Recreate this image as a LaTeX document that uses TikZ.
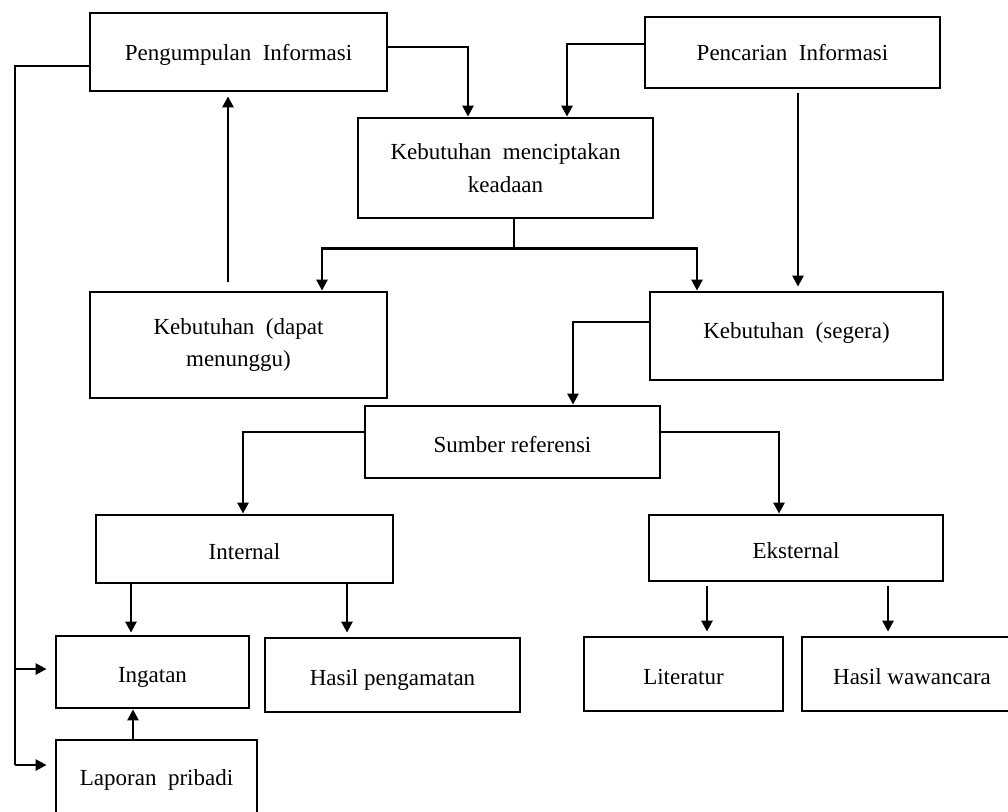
\documentclass[tikz,border=0pt]{standalone}
\usepackage{fontspec}
\setmainfont{Liberation Serif}
\usepackage{tikz}
\usetikzlibrary{arrows.meta}
\usetikzlibrary{positioning}

\begin{document}
\begin{tikzpicture}[x=1pt,y=-1pt,
  kotak/.style={draw, line width=2.8pt, rectangle, inner sep=0pt, align=center,
    font=\fontsize{23}{32.5}\selectfont},
  satu/.style={text height=20pt, text depth=0pt},
  garis/.style={line width=2.5pt},
  panah/.style={line width=2.5pt, -{Triangle[length=11pt,width=11pt]}}]

\useasboundingbox (0,0) rectangle (1008,811);

\node[kotak, satu, minimum width=297pt, minimum height=78pt, text depth=4pt] (kumpul) at (238.5,52) {Pengumpulan\ \ Informasi};
\node[kotak, satu, minimum width=295pt, minimum height=71pt, text depth=4pt] (cari) at (792.5,52.5) {Pencarian\ \ Informasi};
\node[kotak, minimum width=295pt, minimum height=100pt] (cipta) at (505.5,168) {Kebutuhan\ \ menciptakan\\keadaan};
\node[kotak, minimum width=297pt, minimum height=106pt] (tunggu) at (238.5,345) {Kebutuhan\ \ (dapat\\menunggu)};
\node[kotak, minimum width=293pt, minimum height=88pt, text height=20pt, text depth=16pt] (segera) at (796.5,336) {Kebutuhan\ \ (segera)};
\node[kotak, satu, minimum width=295pt, minimum height=72pt] (sumber) at (512.5,442) {Sumber referensi};
\node[kotak, satu, minimum width=297pt, minimum height=68pt] (internal) at (244.5,549) {Internal};
\node[kotak, satu, minimum width=294pt, minimum height=66pt] (eksternal) at (796,548) {Eksternal};
\node[kotak, satu, minimum width=193pt, minimum height=72pt] (ingatan) at (152.5,672) {Ingatan};
\node[kotak, satu, minimum width=255pt, minimum height=74pt] (amat) at (392.5,675) {Hasil pengamatan};
\node[kotak, satu, minimum width=199pt, minimum height=74pt] (literatur) at (683.5,674) {Literatur};
\node[kotak, satu, minimum width=220pt, minimum height=74pt] (wawancara) at (912,674) {Hasil wawancara};
\node[kotak, minimum width=201pt, minimum height=75pt, text height=20pt, text depth=5pt] (laporan) at (156.5,777.5) {Laporan\ \ pribadi};

\draw[panah] ([yshift=5pt]kumpul.east) -| ([xshift=-37.5pt]cipta.north);
\draw[panah] ([yshift=8.5pt]cari.west) -| ([xshift=61.5pt]cipta.north);
\draw[panah] ([xshift=5.5pt,yshift=-4pt]cari.south) -- ([xshift=1.5pt,yshift=4pt]segera.north);

\draw[garis] ([xshift=8.5pt]cipta.south) -- ++(0,29) coordinate (cabang);
\draw[panah] (cabang) -| ([xshift=83.5pt]tunggu.north);
\draw[panah] (cabang) -| ([xshift=-99.5pt]segera.north);

\draw[panah] ([xshift=-10.5pt,yshift=9pt]tunggu.north) -- ([xshift=-10.5pt,yshift=-4pt]kumpul.south);

\draw[panah] ([yshift=14pt]segera.west) -| ([xshift=60.5pt]sumber.north);
\draw[panah] ([yshift=10pt]sumber.west) -| ([xshift=-1.5pt]internal.north);
\draw[panah] ([yshift=10pt]sumber.east) -| ([xshift=-17pt]eksternal.north);

\draw[panah] ([xshift=-113.5pt]internal.south) -- ([xshift=-113.5pt,yshift=2pt]internal.south |- ingatan.north);
\draw[panah] ([xshift=102.5pt]internal.south) -- ([xshift=102.5pt,yshift=4pt]internal.south |- amat.north);
\draw[panah] ([xshift=-89pt,yshift=-4pt]eksternal.south) -- ([xshift=-89pt,yshift=4pt]eksternal.south |- literatur.north);
\draw[panah] ([xshift=92pt,yshift=-4pt]eksternal.south) -- ([xshift=92pt,yshift=4pt]eksternal.south |- wawancara.north);
\draw[panah] ([xshift=-23.5pt]laporan.north) -- ([xshift=-23.5pt]laporan.north |- ingatan.south);

\coordinate (balik) at (15,66);
\coordinate (bawah) at (15,765);
\draw[garis] ([yshift=-14pt]kumpul.west) -- (balik) -- (bawah);
\draw[panah, shorten >=8pt] (balik |- ingatan.west) ++(0,-3) -- ([yshift=3pt]ingatan.west);
\draw[panah, shorten >=8pt] (bawah) -- (bawah -| laporan.west);

\end{tikzpicture}
\end{document}
